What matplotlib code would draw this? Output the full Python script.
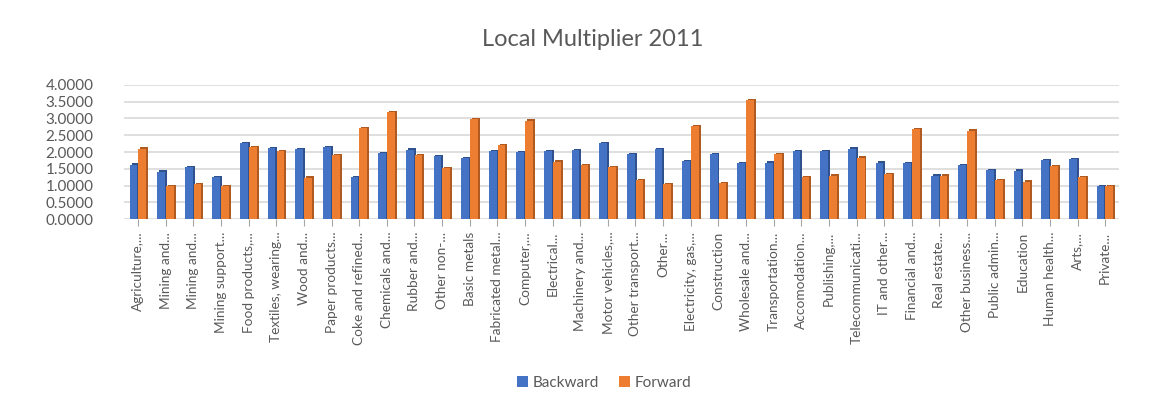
import matplotlib
matplotlib.use("Agg")
import matplotlib.pyplot as plt
import numpy as np

plt.rcParams["font.family"] = ["Lato", "DejaVu Sans"]

sectors = ["Agriculture,...", "Mining and...", "Mining and...", "Mining support...",
           "Food products,...", "Textiles, wearing...", "Wood and...", "Paper products...",
           "Coke and refined...", "Chemicals and...", "Rubber and...", "Other non-...",
           "Basic metals", "Fabricated metal...", "Computer,...", "Electrical...",
           "Machinery and...", "Motor vehicles,...", "Other transport...", "Other...",
           "Electricity, gas,...", "Construction", "Wholesale and...", "Transportation...",
           "Accomodation...", "Publishing,...", "Telecommunicati...", "IT and other...",
           "Financial and...", "Real estate...", "Other business...", "Public admin...",
           "Education", "Human health...", "Arts,...", "Private..."]

backward = [1.62, 1.42, 1.55, 1.26, 2.26, 2.11, 2.09, 2.14, 1.25, 1.97,
            2.07, 1.88, 1.81, 2.02, 2.00, 2.02, 2.06, 2.27, 1.94, 2.08,
            1.73, 1.94, 1.67, 1.68, 2.03, 2.02, 2.10, 1.68, 1.66, 1.30,
            1.61, 1.46, 1.44, 1.76, 1.79, 0.99]
forward = [2.10, 0.99, 1.04, 0.99, 2.14, 2.03, 1.24, 1.91, 2.71, 3.18,
           1.90, 1.51, 2.98, 2.20, 2.93, 1.71, 1.61, 1.54, 1.17, 1.05,
           2.77, 1.07, 3.55, 1.93, 1.25, 1.30, 1.83, 1.35, 2.68, 1.30,
           2.64, 1.17, 1.12, 1.58, 1.25, 0.99]

blue, blue_dark = "#4472C4", "#2F528F"
orange, orange_dark = "#ED7D31", "#AE5A21"

x = np.arange(len(sectors))
w = 0.28
depth_x, depth_y = 0.07, 0.04

fig = plt.figure(figsize=(11.62, 4.12), dpi=100)
ax = fig.add_axes([0.107, 0.468, 0.856, 0.326])

# side faces for a light 3d look
ax.bar(x - 0.17 + depth_x, np.array(backward) + depth_y, w, color=blue_dark, zorder=2)
ax.bar(x - 0.17, backward, w, color=blue, zorder=3, label="Backward")
ax.bar(x + 0.15 + depth_x, np.array(forward) + depth_y, w, color=orange_dark, zorder=2)
ax.bar(x + 0.15, forward, w, color=orange, zorder=3, label="Forward")

ax.set_ylim(0, 4)
ax.set_xlim(-0.5, len(sectors) - 0.5)
ax.set_yticks(np.arange(0, 4.01, 0.5))
ax.set_yticklabels([f"{v:.4f}" for v in np.arange(0, 4.01, 0.5)])
ax.yaxis.grid(True, color="#D9D9D9", linewidth=1.2, zorder=0)
ax.set_axisbelow(True)
ax.set_xticks(x)
ax.set_xticklabels(sectors, rotation=90, fontsize=9.8, color="#595959")
ax.tick_params(axis="y", length=0, labelsize=11, labelcolor="#595959", pad=22)
ax.tick_params(axis="x", length=5, color="#A6A6A6", pad=4)
for s in ax.spines.values():
    s.set_visible(False)

fig.suptitle("Local Multiplier 2011", x=0.51, y=0.93, fontsize=17, color="#595959")
fig.legend(loc="lower center", bbox_to_anchor=(0.52, 0.02), ncol=2, frameon=False,
           fontsize=11, handlelength=0.7, handleheight=0.7, columnspacing=1.3,
           handletextpad=0.3, labelcolor="#595959")

fig.savefig("out.png", dpi=100)
